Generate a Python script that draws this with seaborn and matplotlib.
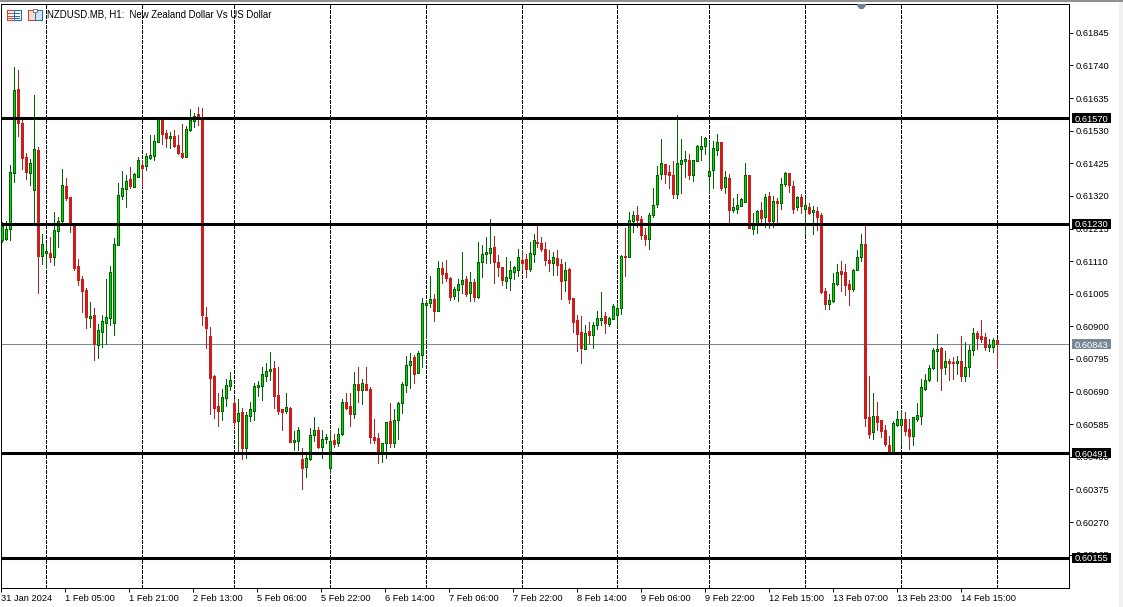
# NZDUSD H1 candles with support / resistance levels
import numpy as np
import pandas as pd
import matplotlib
matplotlib.use("Agg")
import matplotlib.pyplot as plt
import seaborn as sns
from matplotlib.patches import Rectangle, Polygon
from matplotlib.transforms import Affine2D

# prices in points (1e-5)
highs = [
    61235, 61238, 61419, 61734, 61725, 61570, 61457, 61438, 61644, 61477,
    61197, 61168, 61187, 61267, 61251, 61406, 61377, 61316, 61226, 61116,
    61061, 61023, 60978, 60958, 60907, 60936, 61052, 61094, 61184, 61361,
    61399, 61387, 61412, 61393, 61444, 61435, 61457, 61515, 61515, 61570,
    61570, 61531, 61525, 61531, 61515, 61551, 61544, 61599, 61586, 61605,
    61602, 60961, 60897, 60743, 60685, 60697, 60730, 60752, 60665, 60665,
    60636, 60623, 60656, 60717, 60723, 60768, 60781, 60817, 60788, 60768,
    60633, 60685, 60639, 60562, 60575, 60507, 60488, 60572, 60607, 60575,
    60565, 60553, 60565, 60553, 60572, 60665, 60685, 60685, 60752, 60768,
    60730, 60768, 60704, 60601, 60556, 60524, 60591, 60652, 60633, 60656,
    60720, 60804, 60813, 60807, 60820, 60990, 60984, 61061, 61003, 61110,
    61106, 61113, 61058, 61026, 61052, 61139, 61061, 61074, 61052, 61171,
    61161, 61187, 61245, 61190, 61129, 61090, 61122, 61110, 61094, 61148,
    61145, 61132, 61171, 61197, 61226, 61187, 61171, 61145, 61139, 61145,
    61116, 61106, 61087, 60990, 60936, 60932, 60904, 60913, 60913, 60949,
    61010, 60945, 60929, 60971, 60974, 61129, 61216, 61267, 61271, 61287,
    61254, 61216, 61264, 61345, 61415, 61502, 61422, 61419, 61432, 61580,
    61502, 61464, 61454, 61435, 61483, 61512, 61509, 61496, 61496, 61519,
    61493, 61399, 61390, 61312, 61325, 61312, 61425, 61387, 61264, 61274,
    61300, 61325, 61332, 61319, 61312, 61377, 61396, 61393, 61367, 61319,
    61325, 61309, 61296, 61287, 61283, 61264, 61023, 61003, 61071, 61100,
    61110, 61100, 61048, 61084, 61145, 61197, 61222, 60739, 60685, 60656,
    60598, 60582, 60546, 60594, 60627, 60630, 60623, 60601, 60607, 60652,
    60730, 60746, 60775, 60829, 60875, 60833, 60820, 60794, 60800, 60804,
    60868, 60849, 60839, 60894, 60884, 60920, 60878, 60858, 60862, 60858,
]
opens = [
    61177, 61180, 61213, 61393, 61663, 61554, 61444, 61393, 61338, 61467,
    61126, 61135, 61135, 61122, 61206, 61238, 61351, 61316, 61222, 61094,
    61052, 61016, 60926, 60936, 60839, 60881, 60910, 60926, 60910, 61161,
    61319, 61341, 61374, 61348, 61380, 61419, 61415, 61441, 61448, 61493,
    61567, 61522, 61506, 61512, 61483, 61457, 61444, 61531, 61560, 61583,
    61570, 60929, 60868, 60739, 60643, 60627, 60668, 60707, 60652, 60594,
    60623, 60507, 60610, 60627, 60704, 60707, 60739, 60755, 60765, 60678,
    60633, 60627, 60636, 60527, 60530, 60472, 60446, 60472, 60549, 60565,
    60511, 60536, 60443, 60533, 60524, 60553, 60656, 60643, 60617, 60714,
    60694, 60714, 60697, 60543, 60540, 60491, 60524, 60594, 60524, 60598,
    60652, 60710, 60775, 60800, 60749, 60807, 60968, 60974, 60987, 60949,
    61087, 61071, 61055, 60997, 61016, 61036, 61052, 61007, 61042, 60994,
    61106, 61132, 61135, 61155, 61106, 61090, 61045, 61055, 61074, 61081,
    61113, 61116, 61084, 61132, 61171, 61168, 61148, 61113, 61103, 61119,
    61100, 61048, 61084, 60990, 60920, 60881, 60826, 60884, 60871, 60904,
    60920, 60932, 60907, 60923, 60936, 60958, 61126, 61122, 61238, 61258,
    61245, 61193, 61180, 61258, 61293, 61390, 61422, 61396, 61387, 61325,
    61422, 61432, 61435, 61387, 61432, 61470, 61480, 61383, 61403, 61467,
    61493, 61348, 61377, 61274, 61277, 61287, 61300, 61387, 61213, 61232,
    61274, 61251, 61319, 61238, 61303, 61296, 61358, 61393, 61351, 61283,
    61316, 61277, 61283, 61267, 61271, 61258, 61013, 60971, 60981, 61036,
    61077, 61074, 61036, 61019, 61081, 61122, 61164, 60607, 60559, 60610,
    60598, 60565, 60517, 60495, 60582, 60582, 60601, 60569, 60546, 60601,
    60610, 60697, 60726, 60765, 60820, 60829, 60768, 60788, 60784, 60781,
    60788, 60739, 60768, 60823, 60878, 60868, 60865, 60833, 60833, 60855,
]
closes = [
    61222, 61213, 61396, 61660, 61554, 61441, 61396, 61425, 61470, 61126,
    61164, 61142, 61122, 61209, 61238, 61354, 61312, 61232, 61087, 61048,
    61013, 60929, 60932, 60842, 60887, 60916, 60929, 61074, 61164, 61322,
    61345, 61367, 61351, 61390, 61435, 61409, 61448, 61451, 61496, 61570,
    61519, 61506, 61512, 61480, 61457, 61444, 61535, 61564, 61576, 61570,
    60936, 60894, 60733, 60636, 60627, 60672, 60710, 60726, 60591, 60620,
    60507, 60614, 60633, 60707, 60710, 60746, 60755, 60762, 60675, 60627,
    60623, 60639, 60527, 60533, 60565, 60443, 60475, 60549, 60565, 60511,
    60536, 60543, 60530, 60520, 60553, 60656, 60636, 60617, 60714, 60694,
    60717, 60694, 60543, 60533, 60491, 60524, 60591, 60524, 60598, 60652,
    60714, 60775, 60788, 60746, 60813, 60974, 60974, 60987, 60949, 61087,
    61068, 61055, 60994, 61019, 61036, 61048, 61003, 61042, 60994, 61106,
    61132, 61139, 61151, 61106, 61090, 61048, 61058, 61081, 61090, 61122,
    61103, 61084, 61135, 61177, 61168, 61148, 61113, 61103, 61122, 61097,
    61045, 61081, 60987, 60913, 60875, 60829, 60878, 60871, 60904, 60926,
    60926, 60910, 60926, 60965, 60958, 61126, 61122, 61242, 61258, 61242,
    61193, 61180, 61258, 61290, 61387, 61425, 61390, 61387, 61325, 61425,
    61435, 61438, 61387, 61435, 61480, 61480, 61506, 61399, 61473, 61493,
    61345, 61380, 61274, 61283, 61290, 61309, 61387, 61216, 61229, 61271,
    61248, 61316, 61238, 61303, 61296, 61358, 61393, 61354, 61277, 61316,
    61287, 61290, 61264, 61274, 61251, 61010, 60971, 60984, 61039, 61074,
    61068, 61032, 61019, 61081, 61122, 61164, 60604, 60553, 60610, 60591,
    60562, 60520, 60491, 60588, 60601, 60601, 60562, 60546, 60607, 60614,
    60704, 60726, 60765, 60823, 60826, 60765, 60788, 60781, 60781, 60788,
    60739, 60768, 60823, 60878, 60862, 60858, 60833, 60839, 60855, 60843,
]
lows = [
    61171, 61177, 61177, 61364, 61512, 61406, 61374, 61354, 61226, 61007,
    61100, 61087, 61106, 61097, 61155, 61226, 61306, 61203, 61081, 61032,
    60945, 60894, 60897, 60791, 60797, 60833, 60842, 60904, 60871, 61161,
    61309, 61283, 61345, 61348, 61380, 61351, 61403, 61438, 61435, 61493,
    61486, 61477, 61473, 61477, 61454, 61441, 61444, 61528, 61541, 61548,
    60904, 60829, 60617, 60604, 60578, 60598, 60643, 60694, 60578, 60495,
    60472, 60475, 60594, 60598, 60675, 60662, 60723, 60726, 60636, 60617,
    60565, 60620, 60527, 60501, 60501, 60375, 60414, 60469, 60530, 60507,
    60475, 60524, 60427, 60511, 60514, 60549, 60633, 60578, 60604, 60656,
    60649, 60694, 60524, 60524, 60459, 60462, 60475, 60511, 60511, 60536,
    60620, 60688, 60701, 60717, 60749, 60768, 60862, 60961, 60916, 60949,
    61039, 61045, 60984, 60987, 60981, 61007, 60997, 60981, 60981, 60990,
    61058, 61103, 61103, 61039, 61061, 61032, 61023, 61016, 61052, 61061,
    61081, 61058, 61077, 61106, 61155, 61142, 61097, 61077, 61064, 61064,
    60987, 61013, 60974, 60881, 60820, 60781, 60826, 60842, 60829, 60891,
    60904, 60878, 60900, 60923, 60900, 60939, 61061, 61122, 61203, 61219,
    61180, 61161, 61148, 61251, 61283, 61374, 61361, 61345, 61312, 61312,
    61329, 61380, 61374, 61367, 61432, 61435, 61454, 61329, 61345, 61451,
    61338, 61329, 61235, 61267, 61264, 61287, 61300, 61216, 61197, 61200,
    61226, 61219, 61216, 61219, 61229, 61277, 61351, 61332, 61264, 61274,
    61264, 61197, 61261, 61197, 61209, 61007, 60955, 60955, 60978, 61032,
    61013, 61000, 60968, 61013, 61081, 61110, 60578, 60540, 60536, 60565,
    60543, 60514, 60491, 60491, 60578, 60517, 60549, 60504, 60517, 60594,
    60585, 60694, 60723, 60762, 60723, 60694, 60746, 60726, 60730, 60746,
    60723, 60723, 60739, 60807, 60826, 60849, 60823, 60820, 60817, 60765,
]

y_ticks = [0.61845, 0.61740, 0.61635, 0.61530, 0.61425, 0.61320, 0.61215, 0.61110, 0.61005,
           0.60900, 0.60795, 0.60690, 0.60585, 0.60480, 0.60375, 0.60270, 0.60165]
x_labels = ["31 Jan 2024", "1 Feb 05:00", "1 Feb 21:00", "2 Feb 13:00", "5 Feb 06:00", "5 Feb 22:00",
            "6 Feb 14:00", "7 Feb 06:00", "7 Feb 22:00", "8 Feb 14:00", "9 Feb 06:00", "9 Feb 22:00",
            "12 Feb 15:00", "13 Feb 07:00", "13 Feb 23:00", "14 Feb 15:00"]
grid_bars = [11, 35, 58, 82, 106, 130, 154, 177, 201, 225, 249]
levels = [0.61570, 0.61230, 0.60491, 0.60155]
last_price = 0.60843

GREEN_EDGE = "#006400"
GREEN_FILL = "#00E000"
RED = "#CC1C1C"
RED_WICK = "#B22222"
SLATE = "#778899"
FONT = "Liberation Sans"

df = pd.DataFrame({"high": highs, "open": opens, "close": closes, "low": lows}) / 1e5
df["bar"] = np.arange(len(df))
df["body"] = (df["close"] - df["open"]).abs().clip(lower=0.00003)
up = df[df["close"] >= df["open"]]
down = df[df["close"] < df["open"]]

sns.set_theme(style="white")
plt.rcParams["font.family"] = FONT

W, H = 1123, 607
fig = plt.figure(figsize=(W / 100, H / 100), dpi=100, facecolor="white")
ax = fig.add_axes([1.25 / W, 1 - 587.75 / H, 1068 / W, 584 / H])
ax.set_facecolor("white")

for x in grid_bars:
    ax.axvline(x, color="black", lw=0.72, dashes=(3, 2), zorder=1, antialiased=False)
ax.axhline(last_price, color=SLATE, lw=0.72, zorder=1, antialiased=False)

ax.vlines(up["bar"], up["low"], up["high"], color=GREEN_EDGE, lw=0.72, zorder=2, antialiased=False)
ax.vlines(down["bar"], down["low"], down["high"], color=RED_WICK, lw=0.72, zorder=2, antialiased=False)

sns.barplot(x=up["bar"].to_numpy(), y=up["body"].to_numpy(), bottom=up["open"].to_numpy(),
            native_scale=True, width=0.5, color=GREEN_FILL, saturation=1, errorbar=None,
            edgecolor=GREEN_EDGE, linewidth=0.72, zorder=3, antialiased=False, ax=ax)
sns.barplot(x=down["bar"].to_numpy(), y=down["body"].to_numpy(), bottom=down["close"].to_numpy(),
            native_scale=True, width=0.5, color=RED, saturation=1, errorbar=None,
            edgecolor=RED, linewidth=0.72, zorder=3, antialiased=False, ax=ax)

for lvl in levels:
    sns.lineplot(x=[0, 267], y=[lvl, lvl], color="black", lw=2.2, zorder=4, ax=ax)

# one bar every 4 px, 3.22 points per px
ax.set_xlim(0, 267)
ax.set_ylim(0.600583, 0.619387)
ax.set_xlabel("")
ax.set_ylabel("")

for side in ["top", "right", "left", "bottom"]:
    ax.spines[side].set_visible(True)
    ax.spines[side].set_color("black")
    ax.spines[side].set_linewidth(0.72)

ax.yaxis.tick_right()
ax.set_yticks(y_ticks)
ax.set_yticklabels([f"{t:.5f}" for t in y_ticks])
ax.set_xticks(np.arange(len(x_labels)) * 16 - 0.125)
ax.set_xticklabels(x_labels, ha="left")
ax.tick_params(axis="both", length=3, width=0.72, color="black", labelcolor="black", labelsize=6.7,
               bottom=True, right=True, left=False, top=False)
ax.tick_params(axis="y", pad=1.4)
ax.tick_params(axis="x", pad=1.5)

# price tags on the right axis
def price_tag(value, face):
    ax.add_patch(Rectangle((1 + 2.75 / 1068, value - 0.00016), 39 / 1068, 0.00032,
                           transform=ax.get_yaxis_transform(), fc=face, ec="none",
                           clip_on=False, zorder=9))
    ax.annotate(f"{value:.5f}", xy=(1, value), xycoords=("axes fraction", "data"),
                xytext=(4.2, 0), textcoords="offset points", ha="left", va="center_baseline",
                fontsize=6.7, color="white", zorder=10, annotation_clip=False)

for lvl in levels:
    price_tag(lvl, "black")
price_tag(last_price, SLATE)

# header: two toolbar icons and the symbol text
to_px = Affine2D().scale(1, -1).translate(0, H)
ICON_RED = "#D8402A"
ICON_BLUE = "#1F6FB5"

def icon_box(x, y, w, h, ec, fc="white"):
    fig.add_artist(Rectangle((x, y), w, h, transform=to_px, fc=fc, ec=ec, lw=0.72, antialiased=False))

def icon_line(x0, x1, y, color):
    fig.add_artist(plt.Line2D([x0, x1], [y, y], transform=to_px, color=color, lw=0.72, antialiased=False))

icon_box(6.5, 9.5, 7, 10, ICON_RED)
icon_box(13.5, 9.5, 7, 10, ICON_BLUE)
for yy in (12.5, 15.5, 17.5):
    icon_line(8, 13, yy, ICON_RED)
    icon_line(15, 19, yy, ICON_BLUE)
icon_box(27.5, 9.5, 7, 10, ICON_RED, "#FBD9D0")
icon_box(34.5, 9.5, 7, 10, ICON_BLUE, "#CFE6F7")
icon_box(32.5, 8.5, 4, 3, "#808080", "white")

fig.text(47 / W, 1 - 14.5 / H, "NZDUSD.MB, H1:  New Zealand Dollar Vs US Dollar", fontsize=6.9,
         color="black", ha="left", va="center")

# chart shift marker and window edges
fig.add_artist(Polygon([(857, 4), (866, 4), (866, 5.5), (863.5, 9), (859.5, 9), (857, 5.5)], closed=True,
                       transform=to_px, fc="#6E8296", ec="none"))
fig.add_artist(Rectangle((0, 0), W, 1.5, transform=to_px, fc="#909090", ec="none"))
fig.add_artist(Rectangle((1119, 1.5), 4, H, transform=to_px, fc="#F0F0F0", ec="none"))

fig.savefig("out.png", dpi=100)
